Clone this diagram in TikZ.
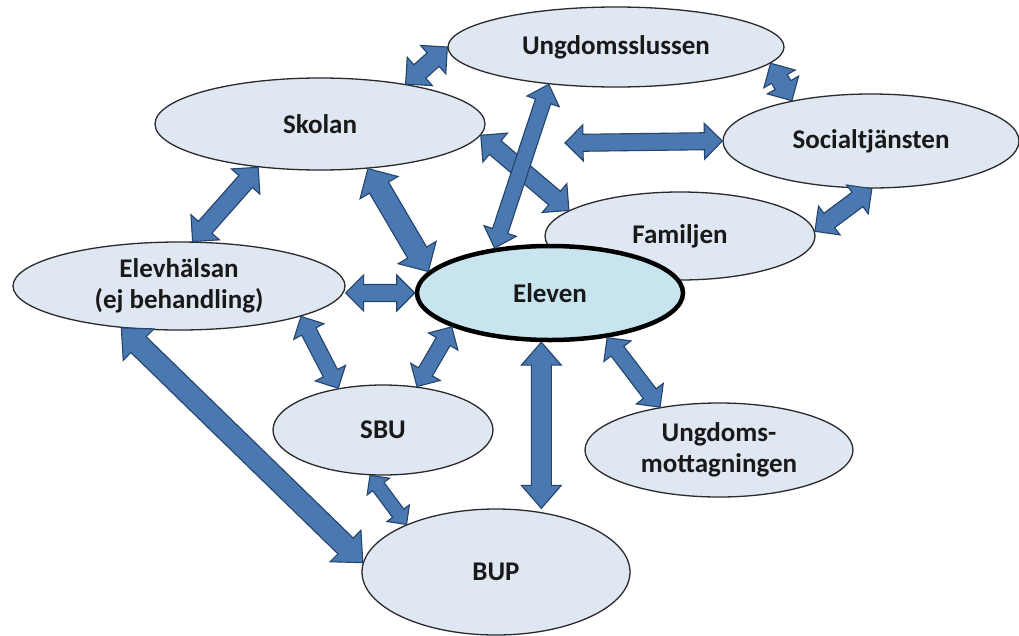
\documentclass[tikz,border=0pt]{standalone}
\usepackage{fontspec}
\setmainfont{Carlito}
\usetikzlibrary{calc,shapes.geometric}
\definecolor{bubfill}{HTML}{DEE7F2}
\definecolor{elevfill}{HTML}{C8E4EE}
\definecolor{arrfill}{HTML}{4A78B0}
\definecolor{arrline}{HTML}{24446C}
\definecolor{bubline}{HTML}{2A2A2A}
\tikzset{
  bub/.style={ellipse, draw=bubline, line width=1.3pt, fill=bubfill, inner sep=0pt,
    font=\bfseries\fontsize{27}{31}\selectfont, align=center, text=black!90},
  arr/.style={draw=arrline, fill=arrfill, line width=1.1pt, line join=miter},
}
\newcommand\blockarrow[5]{%
  \coordinate (ta) at (#1); \coordinate (tb) at (#2);
  \coordinate (ca) at ($(ta)!#5!(tb)$);
  \coordinate (cb) at ($(tb)!#5!(ta)$);
  \draw[arr] (ta) -- ($(ca)!#4!90:(tb)$) -- ($(ca)!#3!90:(tb)$) -- ($(cb)!#3!-90:(ta)$)
    -- ($(cb)!#4!-90:(ta)$) -- (tb) -- ($(cb)!#4!90:(ta)$) -- ($(cb)!#3!90:(ta)$)
    -- ($(ca)!#3!-90:(tb)$) -- ($(ca)!#4!-90:(tb)$) -- cycle;}
\begin{document}
\begin{tikzpicture}[x=1pt,y=-1pt]
\useasboundingbox (0,0) rectangle (1019,635);
\node[bub, minimum width=336, minimum height=80] (u) at (616,47) {Ungdomsslussen};
\node[bub, minimum width=330, minimum height=92] (sk) at (320,124) {Skolan};
\node[bub, minimum width=296, minimum height=94] (so) at (871,141) {Socialtjänsten};
\node[bub, minimum width=270, minimum height=88] (f) at (680,236) {Familjen};
\node[bub, minimum width=332, minimum height=88] (eh) at (179,286) {Elevhälsan\\(ej behandling)};
\node[bub, minimum width=220, minimum height=90] (sbu) at (383,430) {SBU};
\node[bub, minimum width=268, minimum height=94] (um) at (719,450) {Ungdoms-\\mottagningen};
\node[bub, minimum width=268, minimum height=126] (bup) at (496,572) {BUP};
\node[bub, fill=elevfill, draw=black, line width=4.5pt, minimum width=266, minimum height=94] (e) at (550,293) {Eleven};
\coordinate (free) at (565,143);
% arrows
\blockarrow{sk.25}{u.180}{9pt}{19pt}{19pt}
\blockarrow{u.-6}{so.153}{9pt}{18pt}{18pt}
\blockarrow{sk.-43}{e.170}{11pt}{22pt}{22pt}
\blockarrow{sk.215}{eh.73}{9pt}{19pt}{19pt}
\blockarrow{sk.-4}{f.167}{9pt}{19pt}{19pt}
\blockarrow{e.141}{u.209}{8pt}{17pt}{18pt}
\blockarrow{free}{so.180}{8.5pt}{18pt}{18pt}
\blockarrow{so.-89}{f.2}{9pt}{18pt}{18pt}
\blockarrow{eh.east |- e.west}{e.west}{8.5pt}{18pt}{18pt}
\blockarrow{eh.-14}{sbu.137}{8pt}{17pt}{17pt}
\blockarrow{e.199}{sbu.52}{8pt}{17pt}{17pt}
\blockarrow{e.-100}{e.-100 |- bup.north}{10pt}{20pt}{23pt}
\blockarrow{e.-38}{um.144}{8pt}{17pt}{17pt}
\blockarrow{eh.216}{bup.176}{11pt}{22pt}{24pt}
\blockarrow{sbu.-106}{bup.152}{7pt}{14pt}{14pt}
\end{tikzpicture}
\end{document}
